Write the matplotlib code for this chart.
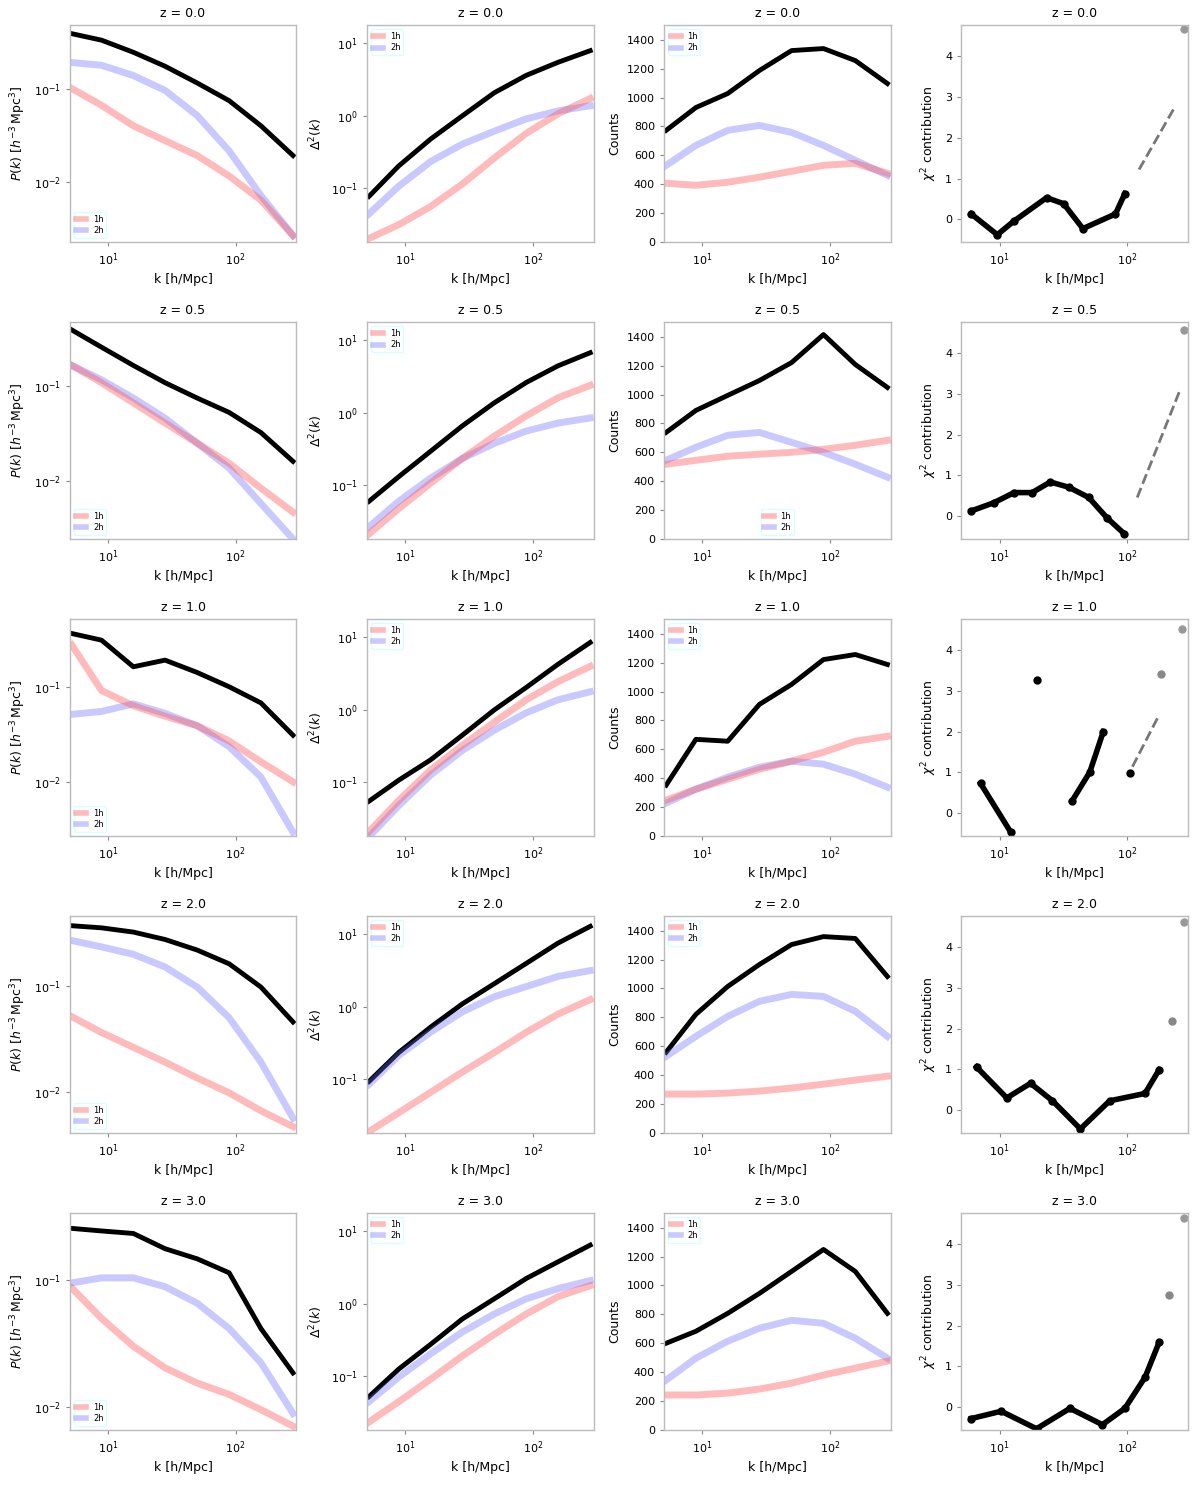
import numpy as np
import matplotlib
matplotlib.use("Agg")
import matplotlib.pyplot as plt
from matplotlib.lines import Line2D

# shared k grid for columns 1-3
k = [5.2, 8.9, 15.8, 28, 50, 89, 158, 282]

row_titles = ["z = 0.0", "z = 0.5", "z = 1.0", "z = 2.0", "z = 3.0"]

# ---- column 1: P(k), values given as log10 ----
c1_black = [[-0.41, -0.48, -0.61, -0.76, -0.94, -1.13, -1.40, -1.72],
            [-0.42, -0.60, -0.79, -0.97, -1.13, -1.28, -1.49, -1.79],
            [-0.44, -0.51, -0.79, -0.72, -0.85, -1.00, -1.17, -1.51],
            [-0.43, -0.45, -0.49, -0.56, -0.66, -0.79, -1.01, -1.34],
            [-0.59, -0.61, -0.63, -0.75, -0.83, -0.94, -1.38, -1.73]]
c1_blue = [[-0.72, -0.75, -0.86, -1.02, -1.29, -1.67, -2.15, -2.58],
           [-0.79, -0.94, -1.13, -1.34, -1.60, -1.86, -2.23, -2.60],
           [-1.29, -1.26, -1.18, -1.28, -1.41, -1.63, -1.95, -2.53],
           [-0.57, -0.63, -0.70, -0.82, -1.01, -1.30, -1.72, -2.25],
           [-1.02, -0.98, -0.98, -1.05, -1.18, -1.38, -1.65, -2.05]]
c1_red = [[-1.00, -1.18, -1.40, -1.56, -1.72, -1.94, -2.20, -2.58],
          [-0.79, -0.97, -1.18, -1.39, -1.60, -1.81, -2.07, -2.32],
          [-0.56, -1.04, -1.20, -1.31, -1.41, -1.57, -1.79, -2.00],
          [-1.29, -1.44, -1.58, -1.72, -1.87, -2.01, -2.18, -2.33],
          [-1.06, -1.30, -1.52, -1.69, -1.81, -1.90, -2.02, -2.15]]
c1_lims = [(-2.65, -0.32), (-2.60, -0.34), (-2.57, -0.29), (-2.39, -0.34), (-2.18, -0.47)]

# ---- column 2: Delta^2(k), log10 ----
c2_black = [[-1.11, -0.69, -0.32, 0.00, 0.32, 0.56, 0.74, 0.90],
            [-1.22, -0.88, -0.53, -0.18, 0.14, 0.42, 0.65, 0.83],
            [-1.26, -0.97, -0.69, -0.35, 0.00, 0.31, 0.63, 0.93],
            [-1.03, -0.63, -0.28, 0.04, 0.32, 0.60, 0.88, 1.11],
            [-1.28, -0.90, -0.56, -0.21, 0.07, 0.35, 0.58, 0.81]]
c2_blue = [[-1.35, -0.97, -0.63, -0.39, -0.21, -0.04, 0.07, 0.14],
           [-1.57, -1.22, -0.90, -0.63, -0.42, -0.25, -0.14, -0.07],
           [-1.75, -1.32, -0.90, -0.56, -0.28, -0.04, 0.14, 0.25],
           [-1.07, -0.67, -0.35, -0.07, 0.14, 0.28, 0.42, 0.50],
           [-1.35, -1.01, -0.69, -0.39, -0.14, 0.07, 0.21, 0.32]]
c2_red = [[-1.69, -1.50, -1.25, -0.94, -0.58, -0.24, 0.03, 0.24],
          [-1.67, -1.32, -0.97, -0.63, -0.32, -0.04, 0.21, 0.38],
          [-1.68, -1.25, -0.83, -0.49, -0.17, 0.14, 0.39, 0.60],
          [-1.72, -1.46, -1.18, -0.90, -0.63, -0.35, -0.10, 0.10],
          [-1.63, -1.35, -1.04, -0.72, -0.42, -0.14, 0.10, 0.25]]

# ---- column 3: counts ----
c3_black = [[773, 931, 1028, 1187, 1325, 1339, 1256, 1097],
            [738, 890, 994, 1097, 1221, 1415, 1208, 1049],
            [352, 669, 656, 911, 1049, 1221, 1256, 1187],
            [559, 821, 1014, 1166, 1304, 1359, 1346, 1083],
            [600, 683, 807, 945, 1097, 1249, 1097, 807]]
c3_blue = [[531, 669, 773, 807, 759, 669, 566, 462],
           [545, 635, 718, 738, 669, 600, 518, 428],
           [228, 324, 407, 476, 518, 497, 428, 338],
           [531, 669, 807, 911, 959, 945, 842, 669],
           [345, 497, 614, 704, 759, 738, 635, 497]]
c3_red = [[407, 393, 414, 449, 490, 531, 545, 476],
          [518, 545, 573, 587, 600, 621, 649, 683],
          [248, 324, 393, 462, 518, 580, 656, 690],
          [269, 269, 276, 290, 311, 338, 366, 393],
          [242, 242, 255, 283, 324, 380, 428, 476]]

# ---- column 4: ratio-like quantity ----
c4_x = [[6.0, 9.6, 12.9, 23.4, 31.8, 45, 81, 96],
        [6.0, 9.0, 13, 18, 25, 35, 50, 70, 95],
        [7.1, 12.2, np.nan, 19.5, np.nan, 37, 51, 65, np.nan, 105],
        [6.6, 11.4, 17.5, 26, 43, 73, 138, 178],
        [6.0, 10.3, 19.5, 35.6, 64, 96, 138, 178]]
c4_y = [[0.13, -0.38, -0.05, 0.53, 0.38, -0.23, 0.13, 0.63],
        [0.13, 0.33, 0.58, 0.58, 0.84, 0.71, 0.46, -0.05, -0.43],
        [0.73, -0.46, np.nan, 3.27, np.nan, 0.30, 1.01, 2.00, np.nan, 0.99],
        [1.06, 0.30, 0.66, 0.23, -0.46, 0.23, 0.41, 0.99],
        [-0.28, -0.10, -0.53, -0.03, -0.43, -0.03, 0.73, 1.59]]
c4_dash_x = [[124, 234], [120, 260], [110, 178], [], []]
c4_dash_y = [[1.22, 2.73], [0.46, 3.10], [1.14, 2.41], [], []]
c4_pt_x = [[], [], [185], [225], [211]]
c4_pt_y = [[], [], [3.42], [2.18], [2.76]]
c4_top_x = [280, 280, 270, 280, 280]
c4_top_y = [4.68, 4.56, 4.53, 4.61, 4.63]

plt.rcParams["font.size"] = 8
fig, axes = plt.subplots(5, 4, figsize=(12, 14.88), dpi=100)
fig.subplots_adjust(left=0.058, right=0.99, top=0.983, bottom=0.039, wspace=0.31, hspace=0.37)

RED = "#ff5555"
BLUE = "#6666ff"
frame = "#bbbbbb"

def style(ax):
    ax.set_xscale("log")
    ax.set_xlim(5, 300)
    ax.set_xticks([10, 100])
    ax.set_xticklabels([r"$10^1$", r"$10^2$"])
    ax.xaxis.set_minor_locator(matplotlib.ticker.NullLocator())
    for s in ax.spines.values():
        s.set_color(frame)
        s.set_linewidth(1.0)
    ax.tick_params(length=3, color="#888888")
    ax.set_xlabel("k [h/Mpc]", fontsize=9)

def legend(ax, loc):
    hs = [Line2D([], [], color=RED, lw=4, alpha=0.4),
          Line2D([], [], color=BLUE, lw=4, alpha=0.35)]
    ax.legend(hs, ["1h", "2h"], loc=loc, fontsize=6, frameon=True,
              handlelength=1.2, borderpad=0.3, labelspacing=0.3,
              edgecolor="#ccffff")

for r in range(5):
    # column 1
    ax = axes[r, 0]
    ax.plot(k, 10 ** np.array(c1_black[r]), color="black", lw=3.5)
    ax.plot(k, 10 ** np.array(c1_blue[r]), color=BLUE, lw=5, alpha=0.35)
    ax.plot(k, 10 ** np.array(c1_red[r]), color=RED, lw=5, alpha=0.4)
    ax.set_yscale("log")
    ax.set_ylim(10 ** c1_lims[r][0], 10 ** c1_lims[r][1])
    ax.set_yticks([1e-2, 1e-1])
    ax.set_yticklabels([r"$10^{-2}$", r"$10^{-1}$"])
    ax.yaxis.set_minor_locator(matplotlib.ticker.NullLocator())
    ax.set_ylabel(r"$P(k)\ [h^{-3}\,\mathrm{Mpc}^3]$", fontsize=9)
    style(ax)
    legend(ax, "lower left")

    # column 2
    ax = axes[r, 1]
    ax.plot(k, 10 ** np.array(c2_black[r]), color="black", lw=3.5)
    ax.plot(k, 10 ** np.array(c2_blue[r]), color=BLUE, lw=5, alpha=0.35)
    ax.plot(k, 10 ** np.array(c2_red[r]), color=RED, lw=5, alpha=0.4)
    ax.set_yscale("log")
    ax.set_ylim(10 ** -1.74, 10 ** 1.25)
    ax.set_yticks([1e-1, 1e0, 1e1])
    ax.set_yticklabels([r"$10^{-1}$", r"$10^{0}$", r"$10^{1}$"])
    ax.yaxis.set_minor_locator(matplotlib.ticker.NullLocator())
    ax.set_ylabel(r"$\Delta^2(k)$", fontsize=9)
    style(ax)
    legend(ax, "upper left")

    # column 3
    ax = axes[r, 2]
    ax.plot(k, c3_black[r], color="black", lw=3.5)
    ax.plot(k, c3_blue[r], color=BLUE, lw=5, alpha=0.35)
    ax.plot(k, c3_red[r], color=RED, lw=5, alpha=0.4)
    ax.set_ylim(0, 1500)
    ax.set_yticks(range(0, 1401, 200))
    ax.set_ylabel("Counts", fontsize=9)
    style(ax)
    legend(ax, "lower center" if r == 1 else "upper left")

    # column 4
    ax = axes[r, 3]
    ax.plot(c4_x[r], c4_y[r], color="black", lw=4, marker="o", ms=5)
    if c4_dash_x[r]:
        ax.plot(c4_dash_x[r], c4_dash_y[r], color="#777777", lw=2, ls="--")
    if c4_pt_x[r]:
        ax.plot(c4_pt_x[r], c4_pt_y[r], "o", color="#888888", ms=5)
    ax.plot([c4_top_x[r]], [c4_top_y[r]], "o", color="#999999", ms=5, clip_on=False)
    ax.set_ylim(-0.56, 4.76)
    ax.set_yticks([0, 1, 2, 3, 4])
    ax.set_ylabel(r"$\chi^2$ contribution", fontsize=9)
    style(ax)

    for c in range(4):
        axes[r, c].set_title(row_titles[r], fontsize=9)

fig.savefig("out.png", dpi=100)
